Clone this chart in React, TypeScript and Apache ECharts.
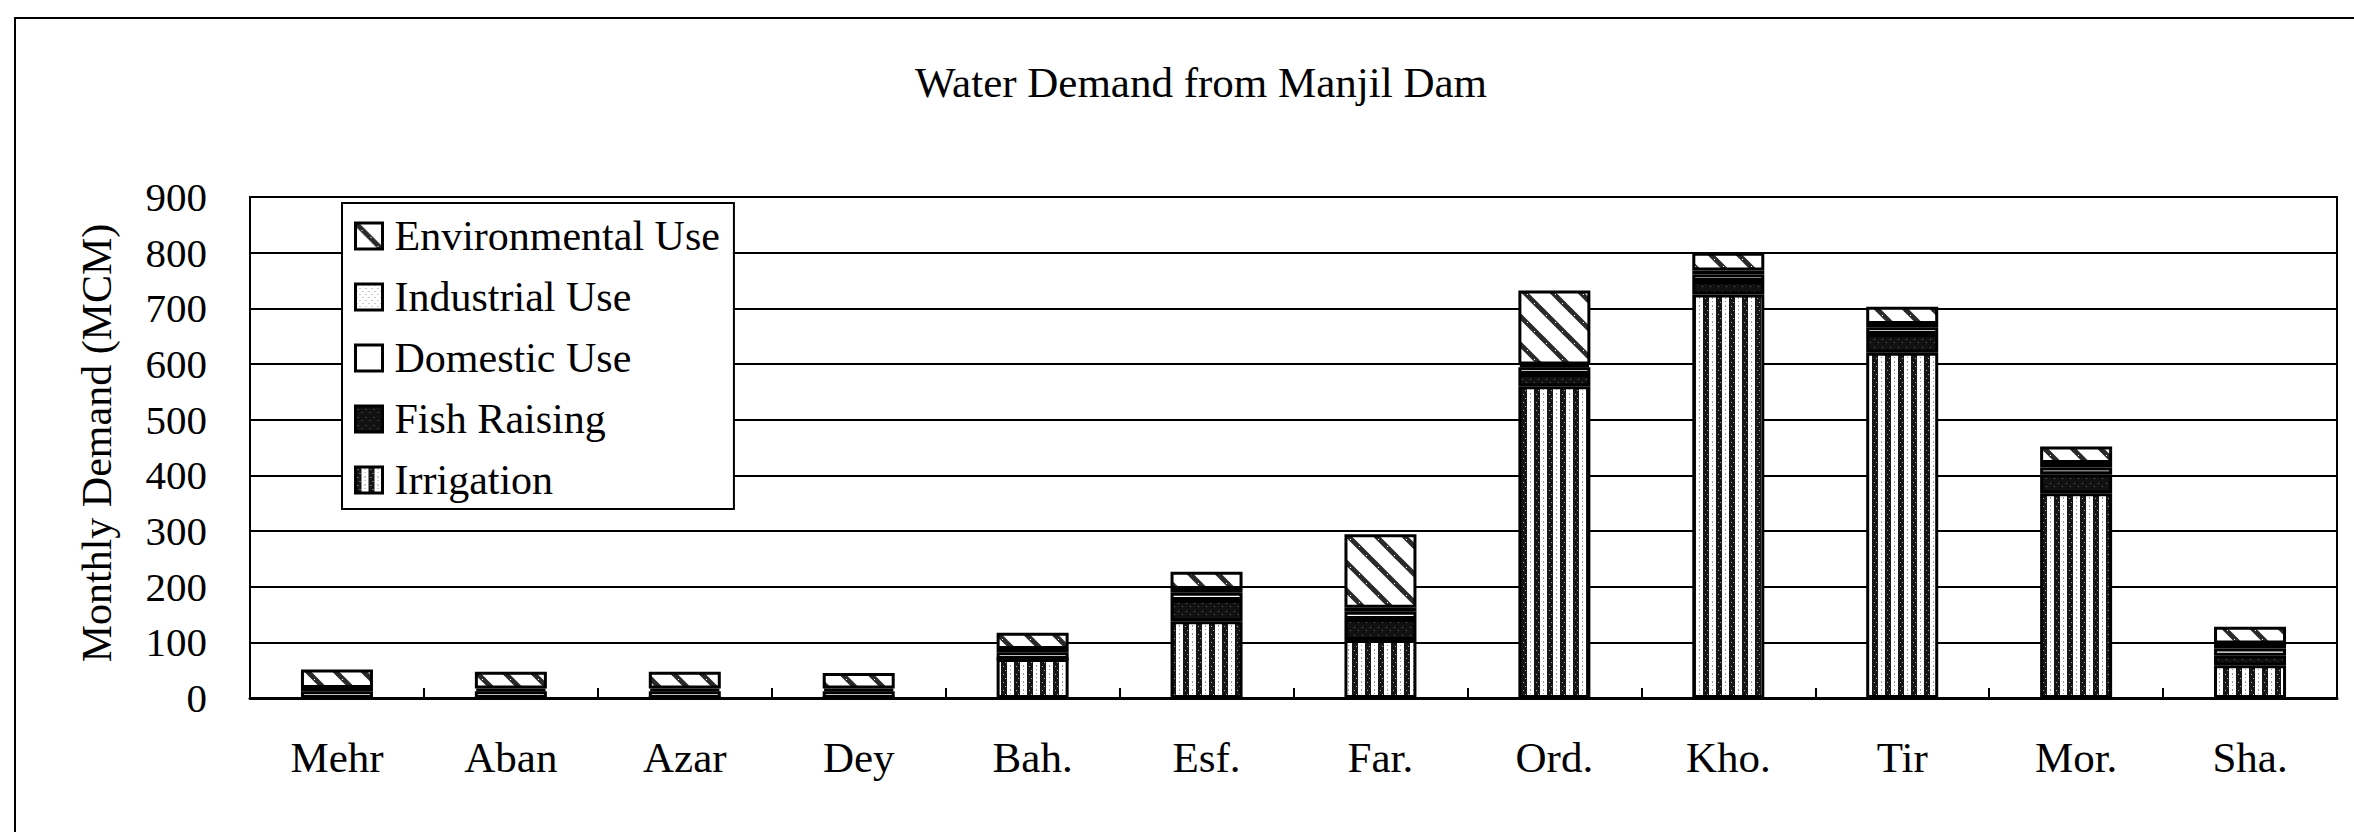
import React, { useEffect, useRef } from 'react';
import * as echarts from 'echarts';

const categories = ['Mehr', 'Aban', 'Azar', 'Dey', 'Bah.', 'Esf.', 'Far.', 'Ord.', 'Kho.', 'Tir', 'Mor.', 'Sha.'];
const irrigation = [0, 0, 0, 0, 70, 138, 104, 560, 725, 620, 368, 59];
const fishRaising = [0, 0, 0, 0, 0, 38, 38, 22, 24, 34, 34, 17];
const domesticUse = [12, 12, 12, 12, 12, 13, 13, 12, 12, 12, 12, 13];
const industrialUse = [6, 5, 5, 5, 6, 7, 7, 5, 7, 6, 8, 9];
const environmentalUse = [33, 30, 30, 28, 29, 31, 132, 133, 32, 31, 30, 30];

const yMin = 0;
const yMax = 900;
const yInterval = 100;

const titleText = 'Water Demand from Manjil Dam';
const yAxisTitle = 'Monthly Demand (MCM)';
const legendOrder = ['Environmental Use', 'Industrial Use', 'Domestic Use', 'Fish Raising', 'Irrigation'];

const FONT = '"Liberation Serif", "Times New Roman", serif';

function makeCanvas(w: number, h: number, draw: (ctx: CanvasRenderingContext2D) => void) {
  const c = document.createElement('canvas');
  c.width = w;
  c.height = h;
  const ctx = c.getContext('2d') as CanvasRenderingContext2D;
  draw(ctx);
  return c;
}

function buildPatterns() {
  const irr = makeCanvas(13, 8, (ctx) => {
    ctx.fillStyle = '#fff';
    ctx.fillRect(0, 0, 13, 8);
    ctx.fillStyle = '#161616';
    ctx.fillRect(0, 0, 6, 8);
    ctx.fillStyle = '#aaa';
    ctx.fillRect(2, 2, 1, 1);
    ctx.fillRect(4, 6, 1, 1);
    ctx.fillStyle = '#999';
    ctx.fillRect(9, 1, 1, 2);
    ctx.fillRect(9, 5, 1, 1);
  });
  const fish = makeCanvas(8, 8, (ctx) => {
    ctx.fillStyle = '#111';
    ctx.fillRect(0, 0, 8, 8);
    ctx.fillStyle = '#666';
    ctx.fillRect(2, 3, 1, 1);
    ctx.fillRect(6, 6, 1, 1);
  });
  const ind = makeCanvas(6, 6, (ctx) => {
    ctx.fillStyle = '#fff';
    ctx.fillRect(0, 0, 6, 6);
    ctx.fillStyle = '#999';
    ctx.fillRect(1, 1, 1, 1);
    ctx.fillRect(4, 4, 1, 1);
  });
  const env = makeCanvas(28, 28, (ctx) => {
    ctx.fillStyle = '#fff';
    ctx.fillRect(0, 0, 28, 28);
    ctx.strokeStyle = '#2a2a2a';
    ctx.lineWidth = 5;
    for (const off of [-28, 0, 28]) {
      ctx.beginPath();
      ctx.moveTo(off - 2, -2);
      ctx.lineTo(off + 30, 30);
      ctx.stroke();
    }
    ctx.fillStyle = '#fff';
    ctx.fillRect(6, 7, 1, 1);
    ctx.fillRect(15, 14, 1, 1);
    ctx.fillRect(22, 23, 1, 1);
  });
  return {
    irrigation: { image: irr, repeat: 'repeat' },
    fish: { image: fish, repeat: 'repeat' },
    domestic: '#ffffff',
    industrial: { image: ind, repeat: 'repeat' },
    environmental: { image: env, repeat: 'repeat' },
  };
}

export default function App() {
  const ref = useRef<HTMLDivElement>(null);

  useEffect(() => {
    if (!ref.current) return;
    const chart = echarts.init(ref.current, undefined, { renderer: 'svg' });
    const p = buildPatterns();

    const barCommon = {
      type: 'bar',
      stack: 'total',
      barWidth: 72,
      silent: true,
      emphasis: { disabled: true },
    };
    const border = { borderColor: '#000', borderWidth: 3 };

    const option: any = {
      animation: false,
      backgroundColor: '#fff',
      title: {
        text: titleText,
        left: 1201,
        top: 61,
        padding: 0,
        textAlign: 'center',
        textStyle: { fontFamily: FONT, fontSize: 43, fontWeight: 'normal', color: '#000' },
      },
      grid: {
        left: 250,
        top: 197,
        right: 17,
        bottom: 134,
        show: true,
        borderColor: '#000',
        borderWidth: 2,
        backgroundColor: 'transparent',
        outerBoundsMode: 'none',
      },
      legend: {
        orient: 'vertical',
        left: 342,
        top: 203,
        data: legendOrder,
        icon: 'rect',
        backgroundColor: '#fff',
        borderColor: '#000',
        borderWidth: 2,
        padding: [12, 14, 8, 12],
        itemGap: 19,
        itemWidth: 27,
        itemHeight: 26,
        selectedMode: false,
        z: 10,
        itemStyle: { borderColor: '#000', borderWidth: 3 },
        textStyle: { fontFamily: FONT, fontSize: 42, color: '#000', padding: [0, 0, 0, 7] },
      },
      xAxis: {
        type: 'category',
        data: categories,
        axisLine: { show: true, lineStyle: { color: '#000', width: 3 } },
        axisTick: { show: true, inside: true, length: 10, lineStyle: { color: '#000', width: 2 } },
        axisLabel: { fontFamily: FONT, fontSize: 43, color: '#000', margin: 38, interval: 0 },
        splitLine: { show: false },
      },
      yAxis: {
        type: 'value',
        min: yMin,
        max: yMax,
        interval: yInterval,
        axisLine: { show: true, lineStyle: { color: '#000', width: 2 } },
        axisTick: { show: false },
        axisLabel: { fontFamily: FONT, fontSize: 41, color: '#000', margin: 43 },
        splitLine: { show: true, lineStyle: { color: '#000', width: 2 } },
      },
      graphic: [
        {
          type: 'rect',
          silent: true,
          shape: { x: 15, y: 18, width: 2400, height: 900 },
          style: { fill: 'none', stroke: '#000', lineWidth: 2 },
        },
        {
          type: 'text',
          x: 97,
          y: 443,
          rotation: Math.PI / 2,
          silent: true,
          style: {
            text: yAxisTitle,
            fontFamily: FONT,
            fontSize: 42,
            fill: '#000',
            align: 'center',
            verticalAlign: 'middle',
          },
        },
      ],
      series: [
        { ...barCommon, name: 'Irrigation', data: irrigation, itemStyle: { color: p.irrigation, ...border } },
        { ...barCommon, name: 'Fish Raising', data: fishRaising, itemStyle: { color: p.fish, ...border } },
        { ...barCommon, name: 'Domestic Use', data: domesticUse, itemStyle: { color: p.domestic, ...border } },
        { ...barCommon, name: 'Industrial Use', data: industrialUse, itemStyle: { color: p.industrial, ...border } },
        { ...barCommon, name: 'Environmental Use', data: environmentalUse, itemStyle: { color: p.environmental, ...border } },
      ],
    };
    chart.setOption(option);
    return () => {
      chart.dispose();
    };
  }, []);

  return (
    <div
      ref={ref}
      style={{ position: 'fixed', left: 0, top: 0, width: 2354, height: 832, background: '#fff' }}
    />
  );
}
